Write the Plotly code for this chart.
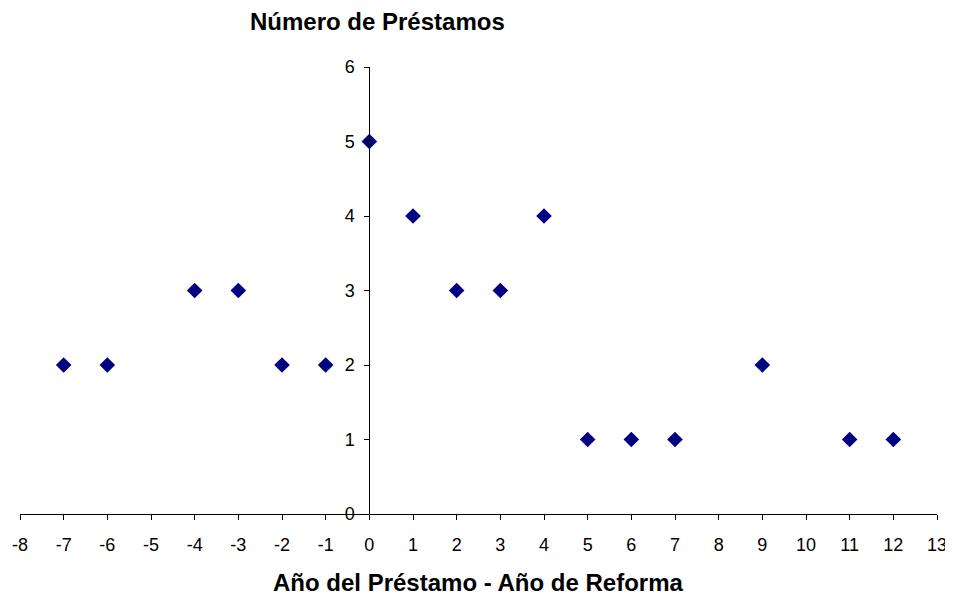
import plotly.graph_objects as go

years = [-7, -6, -4, -3, -2, -1, 0, 1, 2, 3, 4, 5, 6, 7, 9, 11, 12]
loans = [2, 2, 3, 3, 2, 2, 5, 4, 3, 3, 4, 1, 1, 1, 2, 1, 1]
x_ticks = list(range(-8, 14))
y_ticks = list(range(0, 7))

FONT = "Liberation Sans, Arial, sans-serif"

# page body has an 8px margin, so the figure is sized/placed to compensate
W, H = 945, 591
ML, MR, MT, MB = 12, 16, 59, 85

fig = go.Figure()
fig.add_trace(go.Scatter(
    x=years, y=loans, mode="markers",
    marker=dict(symbol="diamond", size=12, color="#000080"),
    showlegend=False, cliponaxis=False,
))

fig.update_layout(
    width=W, height=H,
    margin=dict(l=ML, r=MR, t=MT, b=MB, autoexpand=False),
    paper_bgcolor="white", plot_bgcolor="white",
    font=dict(family=FONT, size=18, color="black"),
    xaxis=dict(
        range=[-8, 13], tickvals=x_ticks, ticktext=[str(v) for v in x_ticks],
        showgrid=False, zeroline=False, showline=True, linecolor="black", linewidth=1,
        ticks="outside", ticklen=5, tickcolor="black", tickfont=dict(size=18),
        ticklabelstandoff=9, automargin=False,
    ),
    yaxis=dict(
        range=[0, 6], tickvals=y_ticks, ticktext=[str(v) for v in y_ticks],
        showgrid=False, zeroline=False, showline=True, linecolor="black", linewidth=1,
        ticks="outside", ticklen=5, tickcolor="black", tickfont=dict(size=18),
        ticklabelstandoff=6, anchor="free", position=8 / 21, automargin=False,
    ),
)

pw, ph = W - ML - MR, H - MT - MB
def px_to_paper(px, py):
    # screen pixel (with 8px body offset) -> paper coords
    return (px - 8 - ML) / pw, (H - MB - (py - 8)) / ph

tx, ty = px_to_paper(377, 21)
xx, xy = px_to_paper(478, 582)
fig.add_annotation(text="<b>Número de Préstamos</b>", x=tx, y=ty, xref="paper", yref="paper",
                   showarrow=False, font=dict(size=24), xanchor="center", yanchor="middle")
fig.add_annotation(text="<b>Año del Préstamo - Año de Reforma</b>", x=xx, y=xy, xref="paper", yref="paper",
                   showarrow=False, font=dict(size=24), xanchor="center", yanchor="middle")

fig.write_html("out.html")
